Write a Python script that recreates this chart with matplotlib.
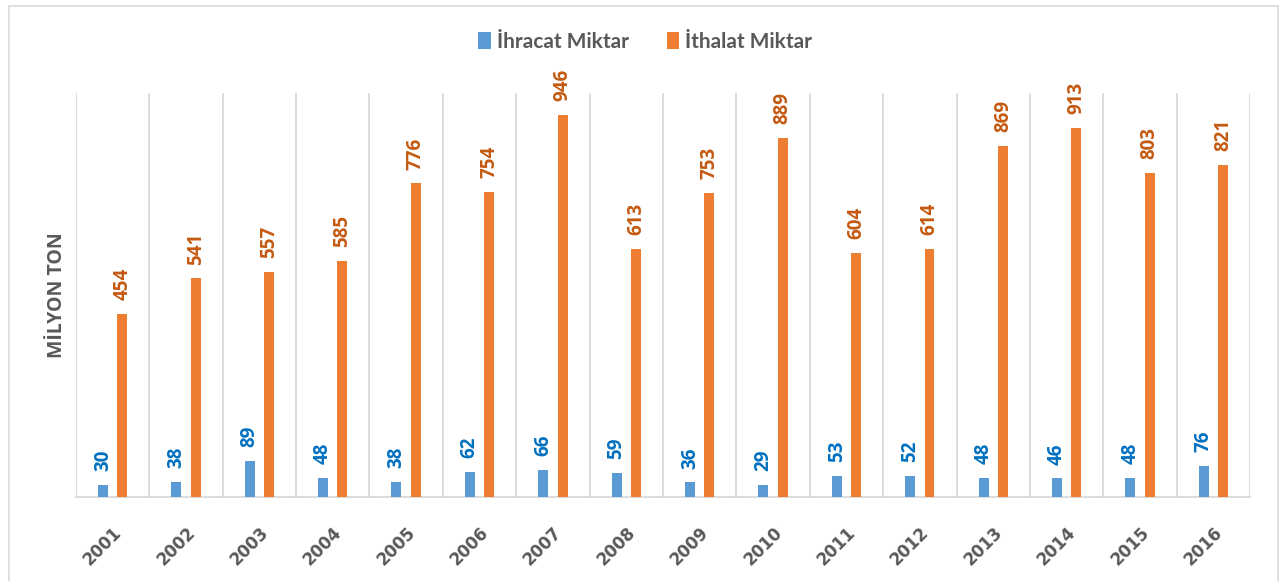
import matplotlib.pyplot as plt
import numpy as np
from matplotlib.patches import Rectangle

# data (milyon ton)
years = ['2001', '2002', '2003', '2004', '2005', '2006', '2007', '2008',
         '2009', '2010', '2011', '2012', '2013', '2014', '2015', '2016']
ihracat = [30, 38, 89, 48, 38, 62, 66, 59, 36, 29, 53, 52, 48, 46, 48, 76]
ithalat = [454, 541, 557, 585, 776, 754, 946, 613, 753, 889, 604, 614, 869, 913, 803, 821]

plt.rcParams['font.family'] = ['Open Sans', 'DejaVu Sans']

fig = plt.figure(figsize=(12.83, 5.81), dpi=100)
ax = fig.add_axes([0.0592, 0.1446, 0.9151, 0.6954])

# chart border
fig.patches.append(Rectangle((0.007, -0.01), 0.989, 1.0, transform=fig.transFigure,
                             fill=False, edgecolor='#D9D9D9', lw=1.2))

x = np.arange(len(years))
w = 0.136
off = 0.132
ax.bar(x - off, ihracat, w, color='#5B9BD5', label='İhracat Miktar', zorder=3)
ax.bar(x + off, ithalat, w, color='#ED7D31', label='İthalat Miktar', zorder=3)

for i in range(len(years)):
    ax.annotate(str(ihracat[i]), (x[i] - off, ihracat[i]), xytext=(0, 10),
                textcoords='offset points', rotation=90, ha='center', va='bottom',
                color='#0070C0', fontsize=13.5, fontweight='bold')
    ax.annotate(str(ithalat[i]), (x[i] + off, ithalat[i]), xytext=(0, 10),
                textcoords='offset points', rotation=90, ha='center', va='bottom',
                color='#C55A11', fontsize=13.5, fontweight='bold')

ax.set_xlim(-0.5, len(years) - 0.5)
ax.set_ylim(0, 1000)
for b in np.arange(-0.5, len(years), 1.0):
    ax.axvline(b, color='#D9D9D9', lw=1.3, zorder=1)

ax.set_xticks(x)
ax.set_xticklabels(years, rotation=45, ha='right', va='top', rotation_mode='anchor',
                   family='DejaVu Sans', fontsize=12, fontweight='bold', color='#595959')
ax.tick_params(axis='x', length=0, pad=19)
ax.set_yticks([])
for s in ['top', 'left', 'right']:
    ax.spines[s].set_visible(False)
ax.spines['bottom'].set_color('#D9D9D9')
ax.spines['bottom'].set_linewidth(1.3)

fig.text(0.0448, 0.492, 'MİLYON TON', rotation=90, ha='center', va='center',
         fontsize=14, fontweight='bold', color='#595959')

fig.legend(loc='center', bbox_to_anchor=(0.503, 0.928), ncol=2, frameon=False,
           handlelength=0.6, handleheight=0.9, handletextpad=0.3, columnspacing=1.8,
           prop={'family': ['Lato', 'DejaVu Sans'], 'size': 15, 'weight': 'bold'},
           labelcolor='#595959')

fig.savefig('out.png', dpi=100)
